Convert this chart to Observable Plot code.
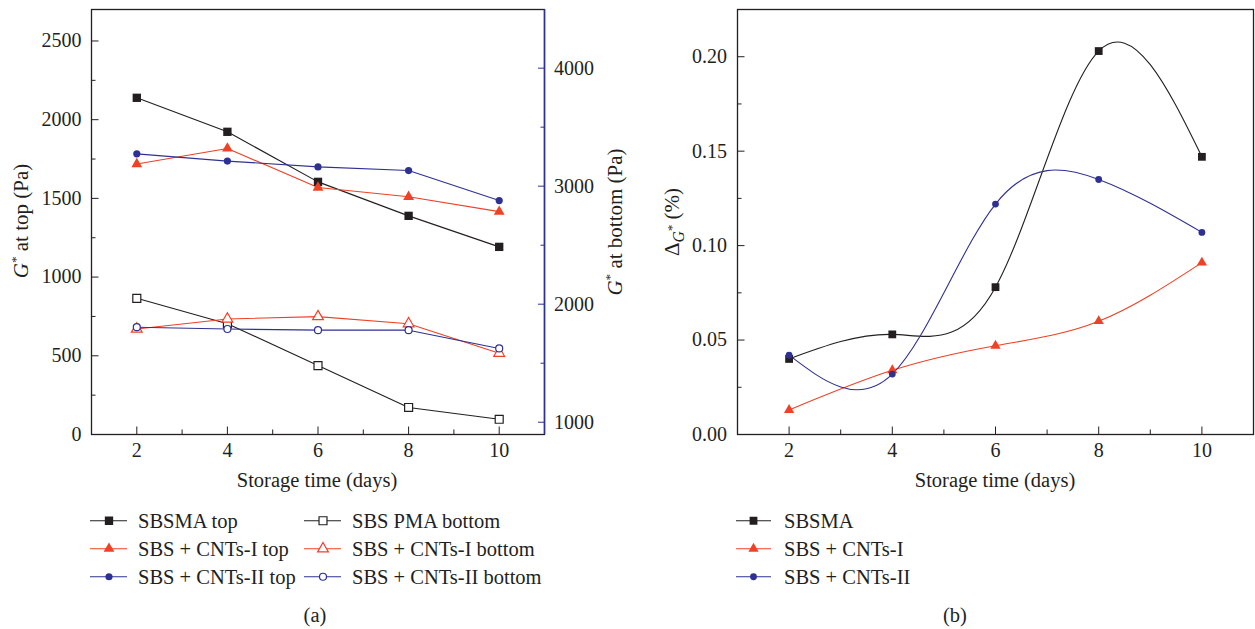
<!DOCTYPE html>
<html>
<head>
<meta charset="utf-8">
<script src="https://cdn.jsdelivr.net/npm/d3@7"></script>
<script src="https://cdn.jsdelivr.net/npm/@observablehq/plot@0.6"></script>
<style>
  body { margin: 0; background: #fff; }
  #wrap { position: relative; width: 1255px; height: 629px; overflow: hidden; font-family: "Liberation Serif", "DejaVu Serif", serif; color: #231f20; }
  .abs { position: absolute; white-space: nowrap; line-height: 1; }
  .rot { transform: translate(-50%, -50%) rotate(-90deg); font-size: 21px; }
  .ctr { transform: translate(-50%, -50%); font-size: 20.5px; }
  sup, sub { line-height: 0; }
  sup { font-size: 0.62em; vertical-align: 0.55em; }
  sub { font-size: 0.75em; vertical-align: -0.3em; }
  sub sup { font-size: 0.8em; vertical-align: 0.6em; }
  .leg { display: flex; align-items: center; font-size: 20.5px; transform: translateY(-50%); }
  .leg svg { display: block; }
</style>
</head>
<body>
<div id="wrap"></div>
<script>
// ---------- data ----------
const days = [2, 4, 6, 8, 10];
const xMinorTicks = [3, 5, 7, 9];
const xDomain = [1, 11];

const topTicks = [0, 500, 1000, 1500, 2000, 2500];
const topMinorTicks = [250, 750, 1250, 1750, 2250];
const topDomain = [0, 2700];
const bottomTicks = [1000, 2000, 3000, 4000];
const bottomMinorTicks = [1500, 2500, 3500];
const bottomDomain = [896, 4497];

const sbsmaTop = [2139, 1923, 1605, 1389, 1192];
const cnt1Top = [1718, 1817, 1569, 1510, 1416];
const cnt2Top = [1783, 1737, 1700, 1677, 1486];
const pmaBottom = [2050, 1835, 1480, 1125, 1025];
const cnt1Bottom = [1790, 1875, 1895, 1835, 1585];
const cnt2Bottom = [1805, 1790, 1780, 1780, 1625];

const deltaTicks = [0, 0.05, 0.10, 0.15, 0.20];
const deltaMinorTicks = [0.025, 0.075, 0.125, 0.175];
const deltaDomain = [0, 0.225];
const sbsmaDelta = [0.040, 0.053, 0.078, 0.203, 0.147];
const cnt1Delta = [0.013, 0.034, 0.047, 0.060, 0.091];
const cnt2Delta = [0.042, 0.032, 0.122, 0.135, 0.107];

const namesA = ["SBSMA top", "SBS + CNTs-I top", "SBS + CNTs-II top", "SBS PMA bottom", "SBS + CNTs-I bottom", "SBS + CNTs-II bottom"];
const namesB = ["SBSMA", "SBS + CNTs-I", "SBS + CNTs-II"];

// ---------- styles ----------
const FONT = '"Liberation Serif", "DejaVu Serif", serif';
const BLACK = "#231f20", RED = "#ef4123", BLUE = "#2e3192";
const styleA = [
  {color: BLACK, symbol: "square", open: false, r: 4.7},
  {color: RED, symbol: "triangle", open: false, r: 4.0},
  {color: BLUE, symbol: "circle", open: false, r: 3.6},
  {color: BLACK, symbol: "square", open: true, r: 4.5},
  {color: RED, symbol: "triangle", open: true, r: 4.0},
  {color: BLUE, symbol: "circle", open: true, r: 3.5}
];
const styleB = [
  {color: BLACK, symbol: "square", open: false, r: 4.4},
  {color: RED, symbol: "triangle", open: false, r: 3.8},
  {color: BLUE, symbol: "circle", open: false, r: 3.4}
];

const toLeft = d3.scaleLinear().domain(bottomDomain).range(topDomain);
const valuesA = [sbsmaTop, cnt1Top, cnt2Top, pmaBottom.map(toLeft), cnt1Bottom.map(toLeft), cnt2Bottom.map(toLeft)];
const valuesB = [sbsmaDelta, cnt1Delta, cnt2Delta];

function seriesMarks(values, styles, curve) {
  const marks = [];
  values.forEach((vals, k) => {
    const st = styles[k];
    const rows = days.map((d, i) => ({day: d, v: vals[i]}));
    marks.push(Plot.line(rows, {x: "day", y: "v", stroke: st.color, strokeWidth: 1.1, curve}));
  });
  values.forEach((vals, k) => {
    const st = styles[k];
    const rows = days.map((d, i) => ({day: d, v: vals[i]}));
    marks.push(Plot.dot(rows, {x: "day", y: "v", symbol: st.symbol, r: st.r,
      fill: st.open ? "white" : st.color, stroke: st.open ? st.color : "none", strokeWidth: 1.2}));
  });
  return marks;
}

const wrap = document.getElementById("wrap");

// ---------- panel (a) ----------
const plotA = Plot.plot({
  width: 600, height: 470,
  marginLeft: 91, marginRight: 56, marginTop: 9, marginBottom: 36,
  style: {fontFamily: FONT, fontSize: "20px", color: BLACK, background: "transparent", overflow: "visible"},
  x: {domain: xDomain, label: null},
  y: {domain: topDomain, label: null},
  marks: [
    Plot.axisX({ticks: days, tickSize: -7.5, tickPadding: 16, tickFormat: d => String(d), label: null}),
    Plot.axisX({ticks: xMinorTicks, tickSize: -4.5, tickFormat: () => "", label: null}),
    Plot.axisY({ticks: topTicks, tickSize: -7.5, tickPadding: 17.5, tickFormat: d => String(d), label: null}),
    Plot.axisY({ticks: topMinorTicks, tickSize: -4.5, tickFormat: () => "", label: null}),
    Plot.axisY({anchor: "right", ticks: bottomTicks.map(toLeft), tickSize: -7, tickPadding: 16.5,
      tickFormat: d => String(Math.round(toLeft.invert(d))), stroke: BLUE, fill: BLACK, label: null}),
    Plot.axisY({anchor: "right", ticks: bottomMinorTicks.map(toLeft), tickSize: -4.5,
      tickFormat: () => "", stroke: BLUE, label: null}),
    ...seriesMarks(valuesA, styleA, "linear"),
    Plot.frame({stroke: BLACK, strokeWidth: 1.3}),
    Plot.ruleX([xDomain[1]], {stroke: BLUE, strokeWidth: 1.5})
  ]
});
plotA.style.position = "absolute";
plotA.style.left = "0px";
plotA.style.top = "0px";
wrap.appendChild(plotA);

// ---------- panel (b) ----------
const plotB = Plot.plot({
  width: 615, height: 470,
  marginLeft: 97, marginRight: 2, marginTop: 9, marginBottom: 36,
  style: {fontFamily: FONT, fontSize: "20px", color: BLACK, background: "transparent", overflow: "visible"},
  x: {domain: xDomain, label: null},
  y: {domain: deltaDomain, label: null},
  marks: [
    Plot.axisX({ticks: days, tickSize: -7.5, tickPadding: 16, tickFormat: d => String(d), label: null}),
    Plot.axisX({ticks: xMinorTicks, tickSize: -4.5, tickFormat: () => "", label: null}),
    Plot.axisY({ticks: deltaTicks, tickSize: -7.5, tickPadding: 18, tickFormat: d3.format(".2f"), label: null}),
    Plot.axisY({ticks: deltaMinorTicks, tickSize: -4.5, tickFormat: () => "", label: null}),
    ...seriesMarks(valuesB, styleB, "natural"),
    Plot.frame({stroke: BLACK, strokeWidth: 1.3})
  ]
});
plotB.style.position = "absolute";
plotB.style.left = "640px";
plotB.style.top = "0px";
wrap.appendChild(plotB);

// ---------- axis titles ----------
function addText(html, x, y, cls) {
  const d = document.createElement("div");
  d.className = "abs " + cls;
  d.style.left = x + "px";
  d.style.top = y + "px";
  d.innerHTML = html;
  wrap.appendChild(d);
  return d;
}
addText('<i>G</i><sup>*</sup> at top (Pa)', 21, 221, "rot");
addText('<i>G</i><sup>*</sup> at bottom (Pa)', 615, 222, "rot");
addText('Δ<sub><i>G</i><sup>*</sup></sub> (%)', 672, 222, "rot");
addText('Storage time (days)', 317, 480, "ctr");
addText('Storage time (days)', 995, 480, "ctr");
addText('(a)', 315, 615, "ctr");
addText('(b)', 955, 615, "ctr");

// ---------- legends ----------
function swatch(st, w, mx) {
  const svg = d3.create("svg").attr("width", w).attr("height", 20);
  svg.append("line").attr("x1", 0).attr("x2", w).attr("y1", 10).attr("y2", 10)
    .attr("stroke", st.color).attr("stroke-width", 1.1);
  const type = st.symbol === "square" ? d3.symbolSquare : st.symbol === "triangle" ? d3.symbolTriangle : d3.symbolCircle;
  svg.append("path").attr("d", d3.symbol(type, Math.PI * st.r * st.r)())
    .attr("transform", `translate(${mx},10)`)
    .attr("fill", st.open ? "white" : st.color)
    .attr("stroke", st.open ? st.color : "none").attr("stroke-width", 1.2);
  return svg.node();
}
function legendItem(name, st, x, y, w, mx, gap) {
  const d = document.createElement("div");
  d.className = "abs leg";
  d.style.left = x + "px";
  d.style.top = y + "px";
  d.appendChild(swatch(st, w, mx));
  const s = document.createElement("span");
  s.style.marginLeft = gap + "px";
  s.textContent = name;
  d.appendChild(s);
  wrap.appendChild(d);
}
const rowsY = [521, 549, 577];
namesA.forEach((n, k) => {
  const col = k < 3 ? 0 : 1;
  const row = k % 3;
  const x = col === 0 ? 90 : 304;
  legendItem(n, styleA[k], x, rowsY[row], 37, 19, 11);
});
namesB.forEach((n, k) => {
  legendItem(n, styleB[k], 736, rowsY[k], 35, 17.5, 13);
});
</script>
</body>
</html>
